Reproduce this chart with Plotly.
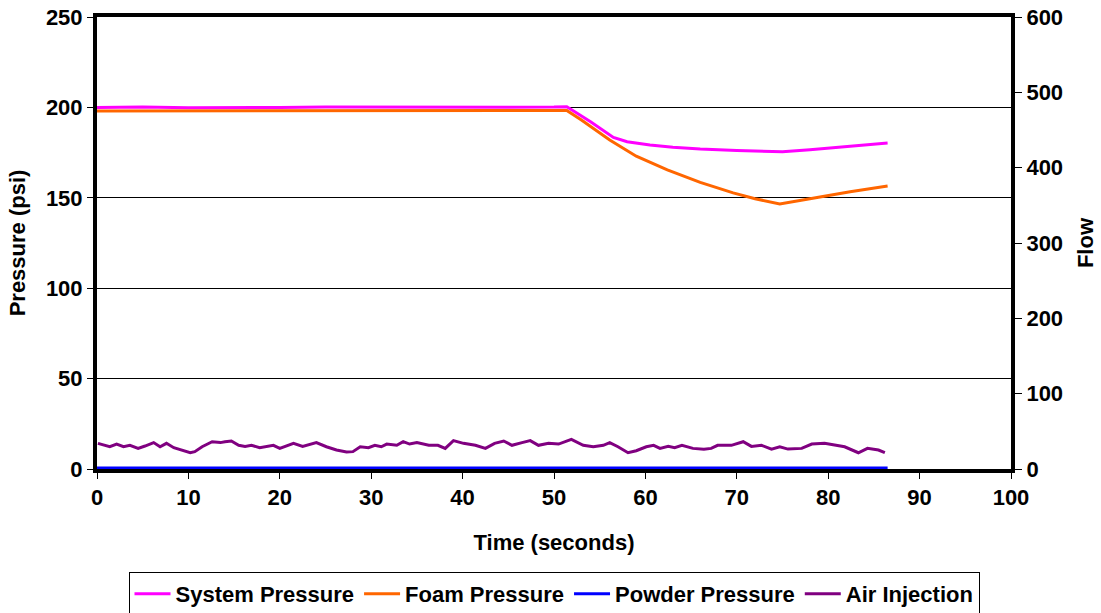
import plotly.graph_objects as go

# ---- data ----
sys_t = [0, 5, 10, 15, 20, 25, 30, 35, 40, 45, 50, 51.4, 54, 56.5, 58, 60.5, 63, 66, 70, 75, 78, 82.4, 86.5]
sys_p = [200, 200.2, 199.8, 200.1, 200, 200.2, 200.1, 200.3, 200.2, 200.1, 200.2, 200.4, 192, 183.4, 181, 179.2, 178, 177, 176.2, 175.5, 176.6, 178.3, 180.3]

foam_t = [0, 10, 20, 30, 40, 50, 51.4, 53, 56.1, 59, 62.4, 66, 69.6, 72, 74.7, 78, 82.4, 86.5]
foam_p = [198, 198, 198.2, 198, 198.2, 198.1, 198.3, 193, 182, 173, 165.4, 158.5, 152.7, 149.5, 146.6, 149.5, 153.4, 156.5]

powder_t = [0, 20, 40, 60, 80, 86.5]
powder_p = [0.6, 0.6, 0.6, 0.6, 0.6, 0.6]

air_t = [0.1, 1.4, 2.15, 2.9, 3.6, 4.5, 5.25, 6.2, 6.9, 7.6, 8.4, 9.3, 10.2, 10.7, 11.5, 12.6,
         13.5, 14.0, 14.7, 15.5, 16.2, 16.9, 17.8, 19.3, 20.0, 21.5, 22.5, 24.0, 25.1, 26.2,
         27.3, 28.0, 28.8, 29.7, 30.4, 31.1, 31.7, 32.8, 33.5, 34.2, 35.0, 36.3, 37.3, 38.1,
         39.0, 40.1, 41.4, 42.5, 43.5, 44.5, 45.4, 46.5, 47.4, 48.3, 49.4, 50.5, 51.9, 53.2,
         54.3, 55.4, 56.1, 57.0, 58.1, 59.0, 60.1, 60.9, 61.6, 62.5, 63.2, 64.0, 65.2, 66.4,
         67.2, 67.9, 68.3, 69.4, 70.7, 71.6, 72.7, 73.8, 74.7, 75.6, 77.1, 78.2, 79.6, 80.7,
         81.8, 83.3, 84.3, 85.5, 86.2]
air_p = [14.2, 12.3, 13.8, 12.3, 13.1, 11.4, 12.7, 14.6, 12.3, 14.2, 11.8, 10.5, 9.0, 9.6, 12.3, 15.1,
         14.6, 15.1, 15.5, 13.1, 12.5, 13.1, 11.8, 13.1, 11.4, 14.2, 12.5, 14.6, 12.3, 10.5,
         9.4, 9.6, 12.3, 11.8, 13.1, 12.3, 13.8, 13.1, 15.1, 13.8, 14.6, 13.1, 13.1, 11.4,
         15.7, 14.2, 13.1, 11.4, 14.2, 15.5, 13.1, 14.6, 15.7, 13.1, 14.2, 13.8, 16.4, 13.1,
         12.3, 13.1, 14.6, 12.3, 9.0, 10.1, 12.3, 13.1, 11.4, 12.5, 11.8, 13.1, 11.4, 10.9,
         11.4, 13.1, 13.1, 13.1, 15.1, 12.5, 13.1, 11.0, 12.3, 11.0, 11.4, 13.8, 14.2, 13.1,
         12.3, 9.0, 11.4, 10.5, 9.0]

x_ticks = [0, 10, 20, 30, 40, 50, 60, 70, 80, 90, 100]
left_ticks = [0, 50, 100, 150, 200, 250]
right_ticks = [0, 100, 200, 300, 400, 500, 600]

FONT = "Liberation Sans, Arial, sans-serif"
FS = 22

fig = go.Figure()
fig.add_trace(go.Scatter(x=sys_t, y=sys_p, mode="lines", name="<b>System Pressure</b>",
                         line=dict(color="#FF00FF", width=3)))
fig.add_trace(go.Scatter(x=foam_t, y=foam_p, mode="lines", name="<b>Foam Pressure</b>",
                         line=dict(color="#FF6600", width=3)))
fig.add_trace(go.Scatter(x=powder_t, y=powder_p, mode="lines", name="<b>Powder Pressure</b>",
                         line=dict(color="#0000FF", width=3)))
fig.add_trace(go.Scatter(x=air_t, y=air_p, mode="lines", name="<b>Air Injection</b>",
                         line=dict(color="#800080", width=3)))
# invisible companion so the right (Flow) axis is drawn
fig.add_trace(go.Scatter(x=[0], y=[0], yaxis="y2", mode="lines", showlegend=False,
                         hoverinfo="skip", line=dict(width=0), opacity=0))

fig.update_layout(
    width=1101, height=613,
    margin=dict(l=97, r=90, t=17, b=144, autoexpand=False),
    paper_bgcolor="white", plot_bgcolor="white",
    font=dict(family=FONT, size=FS, color="black"),
    showlegend=True,
    legend=dict(orientation="h", x=0.5, xanchor="center", y=-0.228, yanchor="top",
                bordercolor="black", borderwidth=1, bgcolor="white",
                font=dict(family=FONT, size=FS, color="black"),
                itemwidth=36, tracegroupgap=0),
    xaxis=dict(range=[0, 100], tickvals=x_ticks, ticktext=[f"<b>{v}</b>" for v in x_ticks],
               automargin=False,
               showgrid=False, zeroline=False, showline=True, linecolor="black", linewidth=4,
               mirror=True, ticks="outside", ticklen=6, tickcolor="black", tickwidth=1,
               title=dict(text="<b>Time (seconds)</b>", standoff=26,
                          font=dict(family=FONT, size=FS, color="black"))),
    yaxis=dict(range=[0, 250], tickvals=left_ticks, ticktext=[f"<b>{v}</b>" for v in left_ticks],
               automargin=False,
               showgrid=True, gridcolor="black", gridwidth=1, zeroline=False,
               showline=True, linecolor="black", linewidth=4,
               ticks="outside", ticklen=6, tickcolor="black", tickwidth=1,
               title=dict(text="<b>Pressure (psi)</b>", standoff=15,
                          font=dict(family=FONT, size=FS, color="black"))),
    yaxis2=dict(range=[0, 600], tickvals=right_ticks, ticktext=[f"<b>{v}</b>" for v in right_ticks],
                automargin=False,
                overlaying="y", side="right", anchor="x", showgrid=False, zeroline=False,
                showline=True, linecolor="black", linewidth=4,
                ticks="outside", ticklen=7, tickcolor="black", tickwidth=1,
                title=dict(text="<b>Flow</b>", standoff=16,
                           font=dict(family=FONT, size=FS, color="black"))),
)

fig.write_html("out.html",
               config={"displayModeBar": False},
               post_script=("document.documentElement.style.margin='0';"
                            "document.documentElement.style.overflow='hidden';"
                            "document.body.style.margin='0';"
                            "document.body.style.padding='0';"
                            "document.body.style.overflow='hidden';"
                            "document.body.style.lineHeight='0';"
                            "document.body.style.fontSize='0';"))
